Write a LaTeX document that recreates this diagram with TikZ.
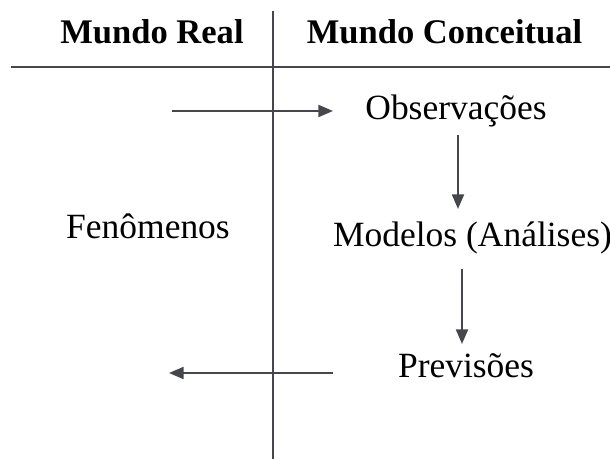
\documentclass[tikz,border=0pt]{standalone}
\usepackage{fontspec}
\setmainfont{Liberation Serif}
\usepackage{xcolor}
\usepackage{tikz}
\usetikzlibrary{arrows.meta, positioning, calc}
\definecolor{linegray}{HTML}{46474D}

\begin{document}
\begin{tikzpicture}[
   x=0.75pt, y=-0.75pt,
   head/.style={anchor=base, inner sep=0pt, font=\fontsize{25.9pt}{30pt}\selectfont\bfseries},
   txt/.style={anchor=base, inner sep=0pt, font=\fontsize{26.6pt}{30pt}\selectfont},
   rule/.style={linegray, line width=1.8pt},
   arr/.style={-{Triangle[length=11pt, width=9pt]}, linegray, line width=1.6pt}]

  \useasboundingbox (0,0) rectangle (610,459);

  \node[head] (real) at (152,44)   {Mundo Real};
  \node[head] (conc) at (444.5,44) {Mundo Conceitual};

  \draw[rule] (273,11) -- (273,459);
  \draw[rule] (11,67) -- (610,67);

  \node[txt] (fen)  at (148,239)   {Fenômenos};
  \node[txt] (obs)  at (456,120)   {Observações};
  \node[txt] (mod)  at (472.5,247) {Modelos (Análises)};
  \node[txt] (prev) at (466,378)   {Previsões};

  \coordinate (fenIn)  at (172,111);
  \coordinate (fenOut) at (169,373);

  \draw[arr] (fenIn) -- ($(obs.base)+(-123,-9)$);
  \draw[arr] ($(obs.base)+(2,15)$) -- ($(mod.base)+(-14.5,-38)$);
  \draw[arr] ($(mod.base)+(-10.5,22)$) -- ($(prev.base)+(-4,-34)$);
  \draw[arr] ($(prev.base)+(-133,-5)$) -- (fenOut);
\end{tikzpicture}
\end{document}
